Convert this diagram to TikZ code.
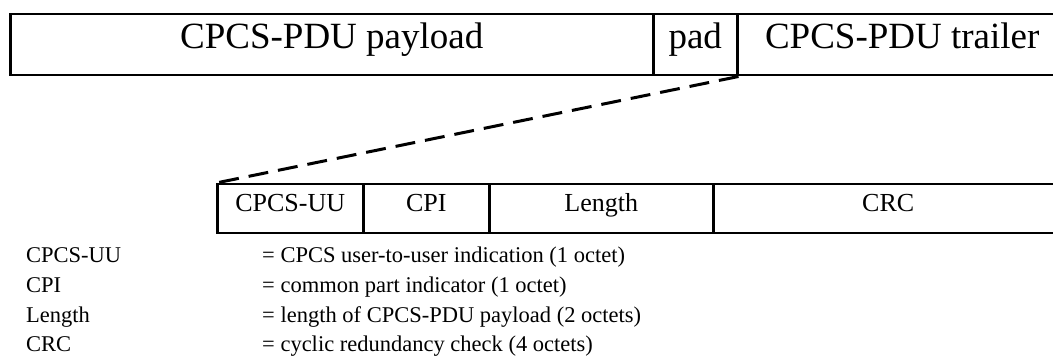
\documentclass[tikz,border=0pt]{standalone}
\usepackage{fontspec}
\setmainfont{Liberation Serif}
\begin{document}
\begin{tikzpicture}[x=1pt,y=-1pt,
  topfield/.style={draw, line width=2.5pt, inner sep=0pt, minimum height=61pt,
    anchor=north west, text height=0.66em, text depth=0pt,
    font=\fontsize{37}{41}\selectfont},
  subfield/.style={draw, line width=2.5pt, inner sep=0pt, minimum height=49pt,
    anchor=north west, text height=0.66em, text depth=0.12em,
    font=\fontsize{26}{30}\selectfont},
  legend/.style={inner sep=0pt, anchor=base west, font=\fontsize{22.5}{26}\selectfont},
  zoomline/.style={line width=3pt, dash pattern=on 20pt off 10pt}]
\useasboundingbox (0,0) rectangle (1053,358);
\clip (0,0) rectangle (1053,358);

% CPCS-PDU layout
\node[topfield, minimum width=643pt] (payload) at (9,13) {CPCS-PDU payload};
\node[topfield, minimum width=84pt]  (pad)     at (652,13) {pad};
\node[topfield, minimum width=330pt] (trailer) at (736,13) {CPCS-PDU trailer};

% trailer fields
\node[subfield, minimum width=146pt] (uu)     at (216,183) {CPCS-UU};
\node[subfield, minimum width=126pt] (cpi)    at (362,183) {CPI};
\node[subfield, minimum width=224pt] (length) at (488,183) {Length};
\node[subfield, minimum width=350pt] (crc)    at (712,183) {CRC};

% expansion of the trailer
\draw[zoomline] (pad.south east) -- (uu.north west);

% field legend
\node[legend] (k1) at (26,263) {CPCS-UU};
\node[legend] (k2) at (26,293) {CPI};
\node[legend] (k3) at (26,323) {Length};
\node[legend] (k4) at (26,352) {CRC};
\node[legend] (d1) at (262,263) {= CPCS user-to-user indication (1 octet)};
\node[legend] (d2) at (262,293) {= common part indicator (1 octet)};
\node[legend] (d3) at (262,323) {= length of CPCS-PDU payload (2 octets)};
\node[legend] (d4) at (262,352) {= cyclic redundancy check (4 octets)};
\end{tikzpicture}
\end{document}
